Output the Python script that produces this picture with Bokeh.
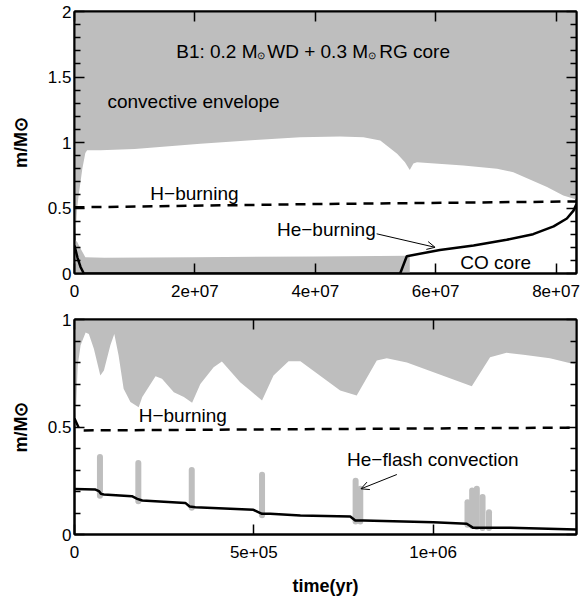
from bokeh.plotting import figure
from bokeh.models import FixedTicker, LinearAxis, Label, Arrow, OpenHead
from bokeh.layouts import column
from bokeh.embed import file_html
from bokeh.resources import INLINE

GRAY = "#bebebe"
FONT = "Liberation Sans"

# ---------------- top panel data (time in yr, mass in Msun) ----------------
top_x_range = (0, 8.34e7)
top_xticks = [0, 2e7, 4e7, 6e7, 8e7]
top_xlabels = ["0", "2e+07", "4e+07", "6e+07", "8e+07"]
top_yticks = [0, 0.5, 1, 1.5, 2]
top_ylabels = ["0", "0.5", "1", "1.5", "2"]

env_top_x = [0, 0.017e7, 0.044e7, 0.07e7, 0.13e7, 0.18e7, 0.21e7, 0.43e7, 1.0e7, 2.09e7,
             3.0e7, 3.75e7, 4.41e7, 4.8e7, 5.08e7, 5.36e7, 5.49e7, 5.57e7, 5.63e7, 5.69e7,
             6.46e7, 7.02e7, 7.29e7, 7.85e7, 8.12e7, 8.34e7]
env_top_y = [0.26, 0.30, 0.50, 0.60, 0.80, 0.92, 0.94, 0.94, 0.95, 0.99,
             1.02, 1.04, 1.045, 1.04, 1.015, 0.915, 0.85, 0.79, 0.84, 0.85,
             0.824, 0.80, 0.773, 0.66, 0.595, 0.565]

core_top_x = [0, 0.045e7, 0.1e7, 0.18e7, 0.5e7, 2e7, 4e7, 5.57e7, 5.57e7, 0]
core_top_y = [0.26, 0.24, 0.19, 0.125, 0.12, 0.125, 0.13, 0.135, 0, 0]

heburn_top_x = [0, 0.05e7, 0.1e7, 0.155e7, 5.41e7, 5.52e7, 6.07e7, 6.63e7, 7.18e7,
                7.62e7, 7.96e7, 8.18e7, 8.29e7, 8.34e7]
heburn_top_y = [0.214, 0.12, 0.05, 0, 0, 0.132, 0.18, 0.214, 0.257,
                0.30, 0.36, 0.42, 0.48, 0.53]

hburn_top_x = [0, 4e7, 8.34e7]
hburn_top_y = [0.505, 0.53, 0.55]

# ---------------- bottom panel data ----------------
bot_x_range = (0, 1.4e6)
bot_xticks = [0, 5e5, 1e6]
bot_xlabels = ["0", "5e+05", "1e+06"]
bot_yticks = [0, 0.5, 1]
bot_ylabels = ["0", "0.5", "1"]

env_bot_x = [0, 2.8e3, 9e3, 1.7e4, 3.1e4, 4.0e4, 5.4e4, 7.2e4, 8.2e4, 1.0e5, 1.11e5,
             1.23e5, 1.37e5, 1.56e5, 1.79e5, 1.89e5, 2.26e5, 2.44e5, 2.77e5, 3.05e5,
             3.28e5, 3.51e5, 3.88e5, 4.11e5, 4.62e5, 4.9e5, 5.23e5, 5.55e5, 5.97e5,
             6.3e5, 7.41e5, 7.87e5, 8.43e5, 8.71e5, 9.27e5, 1.108e6, 1.159e6, 1.205e6,
             1.252e6, 1.326e6, 1.4e6]
env_bot_y = [0.50, 0.52, 0.786, 0.88, 0.94, 0.933, 0.864, 0.74, 0.763, 0.88, 0.933,
             0.833, 0.678, 0.616, 0.592, 0.639, 0.736, 0.724, 0.662, 0.639,
             0.613, 0.70, 0.778, 0.805, 0.708, 0.67, 0.623, 0.74, 0.806,
             0.806, 0.67, 0.647, 0.809, 0.82, 0.80, 0.69, 0.825, 0.845,
             0.836, 0.82, 0.79]

hburn_bot_x = [0, 1.5e4, 1.4e6]
hburn_bot_y = [0.54, 0.484, 0.497]

heburn_bot_x = [0, 5.85e4, 6.8e4, 7.4e4, 8.2e4, 1.6e5, 1.75e5, 1.89e5, 3.09e5, 3.21e5,
                3.37e5, 4.99e5, 5.23e5, 5.46e5, 6.3e5, 7.69e5, 7.83e5, 8.06e5, 1.001e6,
                1.094e6, 1.112e6, 1.215e6, 1.4e6]
heburn_bot_y = [0.212, 0.209, 0.202, 0.189, 0.186, 0.178, 0.166, 0.158, 0.147, 0.13,
                0.127, 0.115, 0.096, 0.096, 0.088, 0.084, 0.065, 0.065, 0.057,
                0.05, 0.031, 0.031, 0.023]

flash_x = [7.1e4, 1.78e5, 3.27e5, 5.23e5, 7.84e5, 7.97e5, 1.096e6, 1.109e6, 1.122e6, 1.138e6, 1.156e6]
flash_top = [0.36, 0.332, 0.30, 0.278, 0.25, 0.2125, 0.15, 0.205, 0.2125, 0.174, 0.104]
flash_bot = [0.18, 0.155, 0.125, 0.09, 0.06, 0.06, 0.045, 0.04, 0.035, 0.03, 0.03]

ANN = "19px"
RAISE = 6


def tick_style(ax):
    ax.axis_line_width = 2
    ax.major_tick_in = 10
    ax.major_tick_out = 0
    ax.minor_tick_in = 6
    ax.minor_tick_out = 0
    ax.major_tick_line_width = 1.5
    ax.minor_tick_line_width = 1.5


def style(p, xticks, xlabels, yticks, ylabels, xlabel):
    minor = [round(i * 0.1, 2) for i in range(0, int(yticks[-1] * 10) + 1)]
    minor = [m for m in minor if m not in yticks]
    p.xaxis.ticker = FixedTicker(ticks=xticks, minor_ticks=[])
    p.xaxis.major_label_overrides = {t: l for t, l in zip(xticks, xlabels)}
    p.yaxis.ticker = FixedTicker(ticks=yticks, minor_ticks=minor)
    p.yaxis.major_label_overrides = {t: l for t, l in zip(yticks, ylabels)}
    p.xgrid.visible = False
    p.ygrid.visible = False
    for ax in [p.xaxis[0], p.yaxis[0]]:
        tick_style(ax)
        ax.major_label_text_font = FONT
        ax.major_label_text_font_size = "17px"
        ax.major_label_text_color = "black"
        ax.axis_label_text_font = FONT
        ax.axis_label_text_font_size = "18px"
        ax.axis_label_text_font_style = "bold"
        ax.axis_label_text_color = "black"
    p.xaxis.major_label_standoff = 11
    p.yaxis.major_label_standoff = 3
    p.yaxis.axis_label = "m/M\u2299"
    p.yaxis.axis_label_standoff = 14
    if xlabel:
        p.xaxis.axis_label = xlabel
        p.xaxis.axis_label_standoff = 15
    # mirrored axes with ticks only (labels not painted)
    right = LinearAxis(ticker=FixedTicker(ticks=yticks, minor_ticks=minor))
    top = LinearAxis(ticker=FixedTicker(ticks=xticks, minor_ticks=[]))
    for ax in [right, top]:
        tick_style(ax)
        ax.major_label_text_font_size = "1px"
        ax.major_label_text_color = None
        ax.major_label_standoff = 0
    p.add_layout(right, "right")
    p.add_layout(top, "above")
    p.outline_line_color = "black"
    p.outline_line_width = 2


def note(p, txt, x, y, size=ANN, dx=0, dy=0):
    p.add_layout(Label(x=x, y=y, x_offset=dx, y_offset=RAISE + dy, text=txt,
                       text_font=FONT, text_font_size=size, text_baseline="alphabetic",
                       text_color="black"))


# ---------------- top figure ----------------
p1 = figure(width=580, height=305, x_range=top_x_range, y_range=(0, 2),
            output_backend="svg", toolbar_location=None,
            min_border_left=74, min_border_right=4, min_border_top=11, min_border_bottom=32)
p1.varea(x=env_top_x, y1=env_top_y, y2=[2] * len(env_top_x), fill_color=GRAY)
p1.patch(x=core_top_x, y=core_top_y, fill_color=GRAY, line_color=None)
p1.line(x=hburn_top_x, y=hburn_top_y, line_color="black", line_width=2.5, line_dash="10 7")
p1.line(x=heburn_top_x, y=heburn_top_y, line_color="black", line_width=2.5)
style(p1, top_xticks, top_xlabels, top_yticks, top_ylabels, None)

tx = 1.69e7
ty = 1.646
pieces = [("B1: 0.2 M", 0, ANN, 0), ("\u2299", 81, "10px", -4), ("WD + 0.3 M", 91, ANN, 0),
          ("\u2299", 192, "10px", -4), ("RG core", 203, ANN, 0)]
for txt, off, fs, dy in pieces:
    note(p1, txt, tx, ty, size=fs, dx=off, dy=dy)

note(p1, "convective envelope", 0.548e7, 1.27)
note(p1, "H\u2212burning", 1.26e7, 0.563)
note(p1, "He\u2212burning", 3.364e7, 0.29)
note(p1, "CO core", 6.41e7, 0.036)
p1.add_layout(Arrow(end=OpenHead(size=8, line_width=1), x_start=5.02e7, y_start=0.303,
                    x_end=5.99e7, y_end=0.2, line_width=1))

# ---------------- bottom figure ----------------
p2 = figure(width=580, height=295, x_range=bot_x_range, y_range=(0, 1),
            output_backend="svg", toolbar_location=None,
            min_border_left=74, min_border_right=4, min_border_top=14, min_border_bottom=66)
p2.varea(x=env_bot_x, y1=env_bot_y, y2=[1] * len(env_bot_x), fill_color=GRAY)
p2.segment(x0=flash_x, y0=flash_bot, x1=flash_x, y1=flash_top, line_color=GRAY,
           line_width=6, line_cap="round")
p2.line(x=hburn_bot_x, y=hburn_bot_y, line_color="black", line_width=2.5, line_dash="10 7")
p2.line(x=heburn_bot_x, y=heburn_bot_y, line_color="black", line_width=2.5)
style(p2, bot_xticks, bot_xlabels, bot_yticks, bot_ylabels, "time(yr)")

note(p2, "H\u2212burning", 1.79e5, 0.527)
note(p2, "He\u2212flash convection", 7.6e5, 0.321)
p2.add_layout(Arrow(end=OpenHead(size=8, line_width=1), x_start=8.99e5, y_start=0.279,
                    x_end=7.99e5, y_end=0.2125, line_width=1))

layout = column(p1, p2, spacing=0)
open("out.html", "w").write(file_html(layout, INLINE))
